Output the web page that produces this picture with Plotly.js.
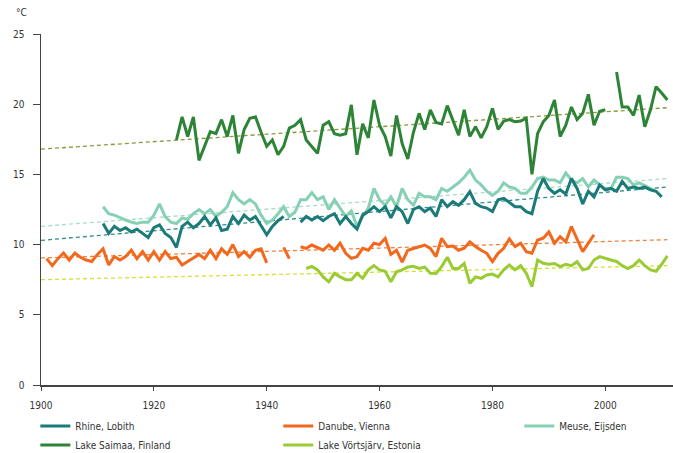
<!DOCTYPE html>
<html>
<head>
<meta charset="utf-8">
<script src="https://cdn.plot.ly/plotly-3.0.1.min.js"></script>
<style>html,body{margin:0;padding:0;background:#fff;}#chart{width:673px;height:453px;}</style>
</head>
<body>
<div id="chart"></div>
<script>
// Years 1900..2011
const years = [
1900,1901,1902,1903,1904,1905,1906,1907,1908,1909,
1910,1911,1912,1913,1914,1915,1916,1917,1918,1919,
1920,1921,1922,1923,1924,1925,1926,1927,1928,1929,
1930,1931,1932,1933,1934,1935,1936,1937,1938,1939,
1940,1941,1942,1943,1944,1945,1946,1947,1948,1949,
1950,1951,1952,1953,1954,1955,1956,1957,1958,1959,
1960,1961,1962,1963,1964,1965,1966,1967,1968,1969,
1970,1971,1972,1973,1974,1975,1976,1977,1978,1979,
1980,1981,1982,1983,1984,1985,1986,1987,1988,1989,
1990,1991,1992,1993,1994,1995,1996,1997,1998,1999,
2000,2001,2002,2003,2004,2005,2006,2007,2008,2009,
2010,2011];

const rhine = [
null,null,null,null,null,null,null,null,null,null,
null,11.5,10.8,11.3,11.0,11.2,10.9,11.1,10.8,10.5,
11.2,11.4,10.8,10.5,9.8,11.3,11.6,11.2,11.5,12.0,
11.4,11.9,11.0,11.1,12.0,11.5,12.1,11.75,12.0,11.3,
10.7,11.3,11.7,12.0,null,null,11.6,12.0,11.75,12.0,
11.7,12.0,12.2,11.5,12.0,11.5,11.1,12.1,12.35,12.7,
12.35,12.7,11.9,12.7,12.35,11.5,12.5,12.7,12.35,12.6,
12.0,13.2,12.7,13.06,12.8,13.2,13.77,12.94,12.7,12.6,
12.35,13.2,13.3,13.0,12.7,12.7,12.35,12.2,13.8,14.7,
14.0,13.65,13.9,13.6,14.7,14.0,12.9,13.8,13.4,14.25,
13.9,14.0,13.8,14.5,14.0,14.1,14.0,14.1,13.9,13.8,
13.4,null];

const meuse = [
null,null,null,null,null,null,null,null,null,null,
null,12.7,12.2,12.1,11.9,11.75,11.6,11.5,11.6,11.6,
12.1,12.9,12.0,11.6,11.5,11.9,11.8,12.2,12.5,12.2,
12.5,12.0,12.3,12.7,13.7,13.2,12.9,13.2,12.9,12.1,
11.5,11.75,12.2,12.7,12.0,12.3,13.2,13.2,13.7,13.2,
13.4,12.5,13.2,12.6,12.0,12.4,11.3,12.0,12.6,14.0,
13.2,12.8,13.4,12.7,14.0,13.2,12.8,13.65,13.4,13.4,
13.2,14.0,13.8,14.1,14.4,14.8,15.3,14.6,14.25,13.8,
13.5,13.8,14.4,14.1,14.0,13.65,13.65,14.1,14.7,14.8,
14.6,14.6,14.4,15.1,14.6,14.4,14.7,14.1,14.6,14.25,
14.0,14.0,14.8,14.8,14.7,14.25,14.4,14.2,14.0,13.8,
null,null];

const danube = [
null,9.0,8.5,9.0,9.4,8.9,9.4,9.1,8.9,8.8,
9.3,9.7,8.55,9.15,8.9,9.15,9.6,9.0,9.5,8.9,
9.5,8.9,9.5,9.0,9.1,8.55,8.8,9.0,9.3,9.0,
9.6,9.0,9.7,9.3,10.0,9.15,9.5,9.1,9.6,9.7,
8.7,null,null,9.8,9.0,null,9.85,9.73,9.97,9.8,
9.6,9.97,9.6,10.1,9.38,9.02,9.14,9.73,9.6,10.1,
10.0,10.45,9.3,9.6,8.75,9.6,9.75,9.85,9.97,9.73,
9.14,10.45,9.86,9.9,9.6,9.74,10.2,9.86,9.6,9.38,
8.79,9.38,9.74,10.4,9.86,10.1,9.5,9.38,10.33,10.45,
10.9,10.1,10.57,10.2,11.28,10.33,9.5,10.1,10.7,null,
null,null,null,null,null,null,null,null,null,null,
null,null];

const saimaa = [
null,null,null,null,null,null,null,null,null,null,
null,null,null,null,null,null,null,null,null,null,
null,null,null,null,17.45,19.1,17.7,19.1,16.0,17.0,
18.05,17.9,18.9,17.7,19.2,16.5,18.2,19.0,19.1,18.0,
17.0,17.45,16.4,17.0,18.3,18.5,18.9,17.45,17.0,16.5,
18.5,18.75,17.9,17.8,17.9,19.95,16.4,18.6,17.6,20.3,
18.5,17.7,16.3,19.2,17.2,16.1,18.0,19.35,18.2,19.6,
18.7,18.6,19.9,18.9,17.8,19.6,17.7,18.4,17.6,18.4,
19.7,18.2,18.8,18.9,18.75,18.8,19.0,15.0,17.9,18.75,
19.2,20.3,17.7,18.5,19.8,18.9,19.35,20.7,18.5,19.5,
19.6,null,22.3,19.8,19.8,19.2,20.65,18.4,19.6,21.25,
20.8,20.3];

const vortsjarv = [
null,null,null,null,null,null,null,null,null,null,
null,null,null,null,null,null,null,null,null,null,
null,null,null,null,null,null,null,null,null,null,
null,null,null,null,null,null,null,null,null,null,
null,null,null,null,null,null,null,8.3,8.45,8.2,
7.7,7.35,7.95,7.7,7.5,7.5,7.95,7.6,8.2,8.5,
8.2,8.1,7.36,8.07,8.2,8.4,8.45,8.3,8.4,7.96,
7.95,8.43,9.1,8.3,8.3,8.66,7.24,7.7,7.6,7.84,
7.9,7.7,8.2,8.55,8.2,8.5,7.96,7.0,8.9,8.67,
8.6,8.65,8.43,8.6,8.5,8.79,8.2,8.3,8.9,9.14,
9.0,8.9,8.8,8.5,8.3,8.5,8.9,8.5,8.2,8.1,
8.6,9.2];

// Linear trends (start 1900, end 2011)
const trendYears = [1900, 2011];
const rhineTrend = [10.3, 14.1];
const meuseTrend = [11.3, 14.7];
const danubeTrend = [9.05, 10.35];
const saimaaTrend = [16.8, 19.75];
const vortsjarvTrend = [7.5, 8.5];

const xTickVals = [1900, 1920, 1940, 1960, 1980, 2000];
const yTickVals = [0, 5, 10, 15, 20, 25];

const C = {
  rhine: '#1b7b79', meuse: '#86d0b4', danube: '#f2691e',
  saimaa: '#2e8436', vorts: '#9acb34'
};
const TC = {
  rhine: '#2f8d8b', meuse: '#a6dcc8', danube: '#f0843e',
  saimaa: '#8a9a3a', vorts: '#d6df3a'
};

function line(name, y, color, legendId, rank) {
  return {x: years, y: y, name: name, type: 'scatter', mode: 'lines',
    line: {color: color, width: 3}, connectgaps: false, showlegend: true,
    legend: legendId, legendrank: rank};
}
function trend(y, color) {
  return {x: trendYears, y: y, type: 'scatter', mode: 'lines',
    line: {color: color, width: 1.3, dash: '4px,3px'}, showlegend: false, hoverinfo: 'skip'};
}

const data = [
  trend(saimaaTrend, TC.saimaa),
  trend(meuseTrend, TC.meuse),
  trend(rhineTrend, TC.rhine),
  trend(danubeTrend, TC.danube),
  trend(vortsjarvTrend, TC.vorts),
  line('Lake Saimaa, Finland', saimaa, C.saimaa, 'legend', 2),
  line('Meuse, Eijsden', meuse, C.meuse, 'legend3', 1),
  line('Rhine, Lobith', rhine, C.rhine, 'legend', 1),
  line('Danube, Vienna', danube, C.danube, 'legend2', 1),
  line('Lake Vörtsjärv, Estonia', vortsjarv, C.vorts, 'legend2', 2)
];

const font = {family: '"DejaVu Sans Condensed", "Liberation Sans", sans-serif', size: 10, color: '#333'};

function legendAt(x) {
  return {
    orientation: 'v', xref: 'container', yref: 'container',
    x: x, y: 0.0916, xanchor: 'left', yanchor: 'top',
    font: font, bgcolor: 'rgba(0,0,0,0)', itemwidth: 30, traceorder: 'normal'
  };
}

const layout = {
  width: 673, height: 453,
  margin: {l: 41, r: 0, t: 34, b: 68, pad: 0, autoexpand: false},
  paper_bgcolor: '#fff', plot_bgcolor: '#fff',
  font: font,
  showlegend: true,
  xaxis: {
    range: [1900, 2012], tickmode: 'array', tickvals: xTickVals, tickangle: 0,
    showgrid: false, zeroline: false, showline: true, linecolor: '#444', linewidth: 1.5,
    ticks: 'outside', ticklen: 4, tickcolor: '#444', tickfont: font, ticklabelstandoff: 6,
    automargin: false
  },
  yaxis: {
    range: [0, 25], tickmode: 'array', tickvals: yTickVals,
    showgrid: false, zeroline: false, showline: true, linecolor: '#444', linewidth: 1.5,
    ticks: 'outside', ticklen: 7, tickcolor: '#444', tickfont: font, ticklabelstandoff: 6,
    automargin: false
  },
  legend: legendAt(0.0525),
  legend2: legendAt(0.4135),
  legend3: legendAt(0.7716),
  annotations: [{
    text: '°C', xref: 'paper', yref: 'paper', x: -0.043, y: 1.062,
    xanchor: 'left', yanchor: 'middle', showarrow: false, font: font
  }]
};

Plotly.newPlot('chart', data, layout, {staticPlot: true, displayModeBar: false});
</script>
</body>
</html>
